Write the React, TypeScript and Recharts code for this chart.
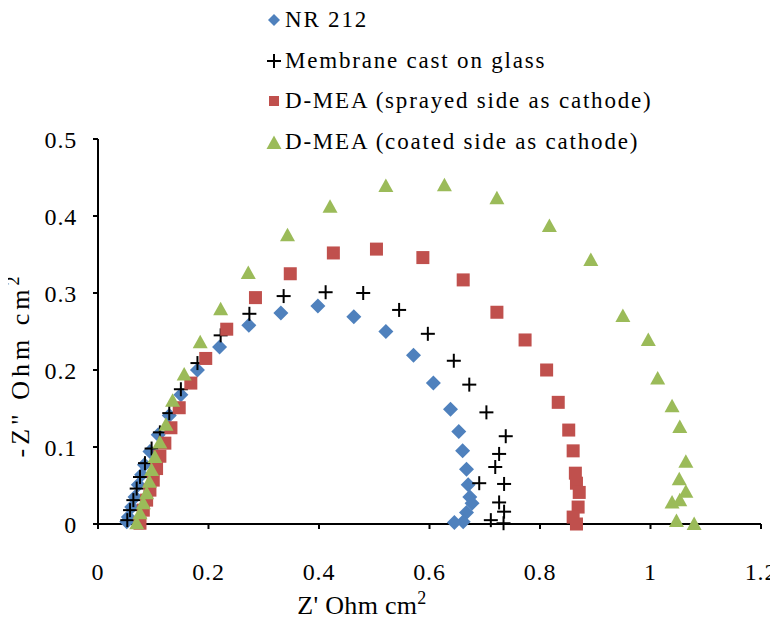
import React from 'react';
import { ScatterChart, Scatter, XAxis, YAxis, Label } from 'recharts';

// Nyquist plot: NR 212 vs. cast membrane vs. two D-MEA orientations

const nr212X = [0.052, 0.055, 0.061, 0.067, 0.073, 0.079, 0.084, 0.094, 0.109, 0.129, 0.15, 0.18, 0.22, 0.273, 0.331, 0.398, 0.463, 0.521, 0.571, 0.607, 0.638, 0.653, 0.66, 0.667, 0.67, 0.673, 0.677, 0.667, 0.661, 0.645];
const nr212Y = [0.003, 0.009, 0.022, 0.035, 0.051, 0.064, 0.077, 0.094, 0.116, 0.141, 0.168, 0.2, 0.23, 0.258, 0.274, 0.283, 0.269, 0.25, 0.219, 0.183, 0.149, 0.12, 0.095, 0.071, 0.051, 0.035, 0.027, 0.015, 0.003, 0.002];

const castX = [0.053, 0.058, 0.064, 0.07, 0.076, 0.085, 0.097, 0.112, 0.129, 0.15, 0.18, 0.222, 0.274, 0.336, 0.412, 0.48, 0.545, 0.597, 0.644, 0.672, 0.703, 0.738, 0.726, 0.719, 0.69, 0.735, 0.726, 0.735, 0.711, 0.734];
const castY = [0.005, 0.018, 0.031, 0.046, 0.061, 0.079, 0.098, 0.119, 0.144, 0.175, 0.209, 0.245, 0.273, 0.296, 0.301, 0.3, 0.278, 0.247, 0.212, 0.181, 0.145, 0.114, 0.091, 0.074, 0.053, 0.052, 0.028, 0.016, 0.005, 0.001];

const sprayedX = [0.076, 0.082, 0.088, 0.094, 0.1, 0.106, 0.112, 0.121, 0.132, 0.147, 0.168, 0.195, 0.233, 0.285, 0.348, 0.426, 0.504, 0.588, 0.661, 0.722, 0.773, 0.812, 0.833, 0.852, 0.86, 0.864, 0.866, 0.871, 0.869, 0.86, 0.866];
const sprayedY = [0.001, 0.018, 0.031, 0.044, 0.057, 0.072, 0.088, 0.105, 0.125, 0.151, 0.183, 0.215, 0.253, 0.294, 0.325, 0.352, 0.357, 0.346, 0.317, 0.275, 0.239, 0.2, 0.158, 0.122, 0.095, 0.066, 0.053, 0.041, 0.022, 0.009, 0.0];

const coatedX = [0.07, 0.076, 0.082, 0.088, 0.093, 0.097, 0.103, 0.112, 0.123, 0.135, 0.156, 0.185, 0.222, 0.272, 0.343, 0.42, 0.521, 0.627, 0.722, 0.817, 0.892, 0.95, 0.996, 1.013, 1.039, 1.053, 1.064, 1.052, 1.064, 1.053, 1.039, 1.047, 1.079];
const coatedY = [0.001, 0.014, 0.027, 0.04, 0.055, 0.07, 0.087, 0.106, 0.129, 0.16, 0.194, 0.236, 0.279, 0.326, 0.375, 0.412, 0.439, 0.44, 0.423, 0.387, 0.343, 0.27, 0.239, 0.189, 0.153, 0.126, 0.081, 0.058, 0.042, 0.031, 0.028, 0.004, 0.0];

const xTicks = [0, 0.2, 0.4, 0.6, 0.8, 1, 1.2];
const yTicks = [0, 0.1, 0.2, 0.3, 0.4, 0.5];

const seriesNames = ['NR 212', 'Membrane cast on glass', 'D-MEA (sprayed side as cathode)', 'D-MEA (coated side as cathode)'];

const BLUE = '#4f81bd';
const RED = '#c0504d';
const GREEN = '#9bbb59';
const FONT = '"Liberation Serif", "DejaVu Serif", serif';

const toPoints = (xs: number[], ys: number[]) => xs.map((x, i) => ({ x, y: ys[i] }));

const Diamond = ({ cx, cy }: any) => (
  <polygon points={`${cx},${cy - 7.5} ${cx + 7.5},${cy} ${cx},${cy + 7.5} ${cx - 7.5},${cy}`} fill={BLUE} />
);
const Cross = ({ cx, cy }: any) => (
  <g stroke="#000" strokeWidth={2}>
    <line x1={cx - 7} y1={cy} x2={cx + 7} y2={cy} />
    <line x1={cx} y1={cy - 7} x2={cx} y2={cy + 7} />
  </g>
);
const Square = ({ cx, cy }: any) => (
  <rect x={cx - 6.5} y={cy - 6.5} width={13} height={13} fill={RED} />
);
const Triangle = ({ cx, cy }: any) => (
  <polygon points={`${cx},${cy - 7.5} ${cx + 7.5},${cy + 6} ${cx - 7.5},${cy + 6}`} fill={GREEN} />
);

const markers = [Diamond, Cross, Square, Triangle];

export default function App() {
  const tickStyle = { fill: '#000', fontSize: 24, fontFamily: FONT, letterSpacing: 0.8 };

  return (
    <div style={{ margin: -8, width: 778, height: 632, position: 'relative', overflow: 'hidden' }}>
      <ScatterChart width={778} height={632} margin={{ top: 139, right: 17, bottom: 68, left: 38 }}>
        <XAxis
          type="number"
          dataKey="x"
          domain={[0, 1.2]}
          ticks={xTicks}
          height={40}
          tick={tickStyle}
          tickSize={5}
          tickMargin={34}
          axisLine={{ stroke: '#000', strokeWidth: 2 }}
          tickLine={{ stroke: '#000', strokeWidth: 2 }}
        >
          <Label
            content={() => (
              <text x={362} y={614} textAnchor="middle" fontFamily={FONT} fontSize={26} letterSpacing={0.3} fill="#000">
                Z' Ohm cm<tspan dy={-10} fontSize={18}>2</tspan>
              </text>
            )}
          />
        </XAxis>
        <YAxis
          type="number"
          dataKey="y"
          domain={[0, 0.5]}
          ticks={yTicks}
          width={60}
          tick={tickStyle}
          tickSize={5}
          tickMargin={16}
          axisLine={{ stroke: '#000', strokeWidth: 2 }}
          tickLine={{ stroke: '#000', strokeWidth: 2 }}
        >
          <Label
            content={() => (
              <text
                x={29}
                y={365}
                transform="rotate(-90 29 365)"
                textAnchor="middle"
                fontFamily={FONT}
                fontSize={26}
                letterSpacing={4}
                fill="#000"
              >
                -Z" Ohm cm<tspan dy={-10} fontSize={18}>2</tspan>
              </text>
            )}
          />
        </YAxis>
        <Scatter name={seriesNames[0]} data={toPoints(nr212X, nr212Y)} shape={(p: any) => <Diamond cx={p.cx} cy={p.cy} />} isAnimationActive={false} />
        <Scatter name={seriesNames[1]} data={toPoints(castX, castY)} shape={(p: any) => <Cross cx={p.cx} cy={p.cy} />} isAnimationActive={false} />
        <Scatter name={seriesNames[2]} data={toPoints(sprayedX, sprayedY)} shape={(p: any) => <Square cx={p.cx} cy={p.cy} />} isAnimationActive={false} />
        <Scatter name={seriesNames[3]} data={toPoints(coatedX, coatedY)} shape={(p: any) => <Triangle cx={p.cx} cy={p.cy} />} isAnimationActive={false} />
      </ScatterChart>

      {/* legend, stacked at the top */}
      <div style={{ position: 'absolute', left: 266, top: 0, fontFamily: FONT, fontSize: 23, letterSpacing: 1.8, color: '#000' }}>
        {seriesNames.map((name, i) => {
          const M = markers[i];
          return (
            <div key={name} style={{ display: 'flex', alignItems: 'center', height: 40.5, whiteSpace: 'nowrap' }}>
              <svg width={16} height={16} style={{ marginRight: 3 }}>
                {i === 0 ? (
                  <polygon points="8,2 14,8 8,14 2,8" fill={BLUE} />
                ) : i === 2 ? (
                  <rect x={3} y={3} width={10} height={10} fill={RED} />
                ) : (
                  <M cx={8} cy={i === 3 ? 9 : 8} />
                )}
              </svg>
              <span>{name}</span>
            </div>
          );
        })}
      </div>
    </div>
  );
}
